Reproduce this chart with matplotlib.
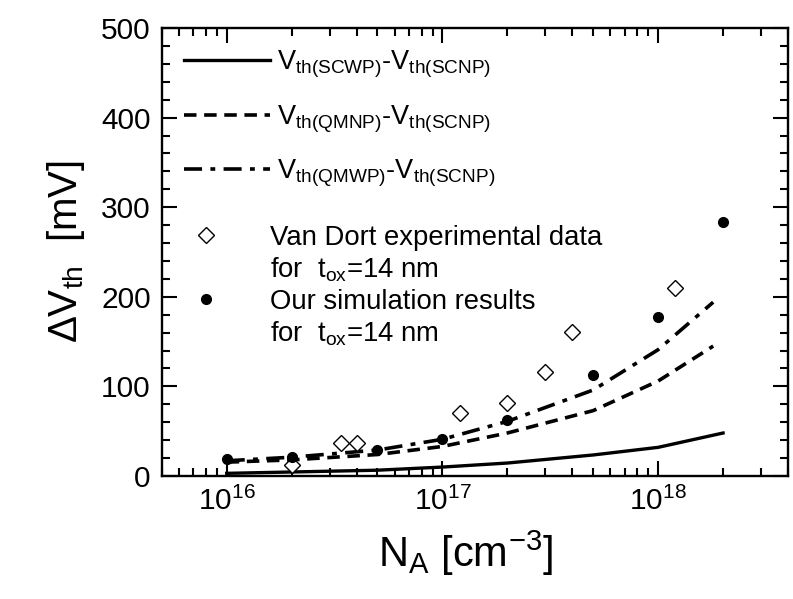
import matplotlib
matplotlib.use("Agg")
import matplotlib.pyplot as plt
from matplotlib.ticker import MultipleLocator, LogLocator, NullFormatter
from matplotlib.lines import Line2D

plt.rcParams['font.family'] = ['Liberation Sans', 'DejaVu Sans']
plt.rcParams['mathtext.fontset'] = 'custom'
plt.rcParams['mathtext.rm'] = 'Liberation Sans'
plt.rcParams['mathtext.it'] = 'Liberation Sans:italic'
plt.rcParams['mathtext.default'] = 'regular'
plt.rcParams['lines.scale_dashes'] = False

# ---- data ----
x_scwp = [1e16, 2e16, 5e16, 1e17, 2e17, 5e17, 1e18, 2e18]
y_scwp = [3, 4.5, 6.5, 10, 14.5, 23.5, 32, 48]
x_qm = [1e16, 2e16, 5e16, 1e17, 2e17, 5e17, 1e18, 1.8e18]
y_qmnp = [15.5, 18, 24, 33, 48, 73, 106, 145]
y_qmwp = [17, 21, 29, 41, 61, 96, 141, 194]

x_vandort = [2e16, 3.4e16, 4e16, 1.2e17, 2e17, 3e17, 4e17, 1.2e18]
y_vandort = [12, 37, 37, 70, 82, 116, 161, 210]

x_sim = [1e16, 2e16, 5e16, 1e17, 2e17, 5e17, 1e18, 2e18]
y_sim = [19, 21, 29, 41, 63, 113, 177, 283]

lbl_scwp = r'$V_{th(SCWP)}$-$V_{th(SCNP)}$'
lbl_qmnp = r'$V_{th(QMNP)}$-$V_{th(SCNP)}$'
lbl_qmwp = r'$V_{th(QMWP)}$-$V_{th(SCNP)}$'
lbl_vd = 'Van Dort experimental data'
lbl_sim = 'Our simulation results'
lbl_tox = r'for  $t_{ox}$=14 nm'

fig = plt.figure(figsize=(7.93, 5.99), dpi=100)
ax = fig.add_axes([0.204, 0.2053, 0.7897, 0.748])

l1, = ax.plot(x_scwp, y_scwp, color='black', lw=2.4, ls='-')
l2, = ax.plot(x_qm, y_qmnp, color='black', lw=2.6, ls=(0, (9, 5.5)))
l3, = ax.plot(x_qm, y_qmwp, color='black', lw=2.6, ls=(0, (13, 6, 3.5, 6)))
m1, = ax.plot(x_vandort, y_vandort, ls='none', marker='D', ms=8,
              mfc='white', mec='black', mew=1.0)
m2, = ax.plot(x_sim, y_sim, ls='none', marker='o', ms=7,
              mfc='black', mec='black')

ax.set_xscale('log')
ax.set_xlim(5e15, 4e18)
ax.set_ylim(0, 500)
ax.yaxis.set_major_locator(MultipleLocator(100))
ax.yaxis.set_minor_locator(MultipleLocator(20))
ax.xaxis.set_major_locator(LogLocator(base=10))
ax.xaxis.set_minor_locator(LogLocator(base=10, subs=range(2, 10)))
ax.xaxis.set_minor_formatter(NullFormatter())

for s in ax.spines.values():
    s.set_linewidth(1.7)
ax.tick_params(which='both', direction='in', top=True, right=True,
               width=1.5, labelsize=21.5, pad=8)
ax.tick_params(which='major', length=11)
ax.tick_params(which='minor', length=5.8)

ax.set_ylabel(r'$\Delta V_{th}$  [mV]', fontsize=29, labelpad=10)
ax.set_xlabel(r'$N_A$ [cm$^{-3}$]', fontsize=30)
ax.xaxis.set_label_coords(0.485, -0.118)
ax.xaxis.get_label().set_va('top')

leg1 = ax.legend([l1, l2, l3], [lbl_scwp, lbl_qmnp, lbl_qmwp],
                 loc='upper left', bbox_to_anchor=(0.035, 0.953),
                 frameon=False, fontsize=19.5, handlelength=3.2,
                 handletextpad=0.25, labelspacing=0.85,
                 borderaxespad=0, borderpad=0)
ax.add_artist(leg1)
blank = Line2D([], [], ls='none', marker=None)
leg2 = ax.legend([m1, blank, m2, blank],
                 [lbl_vd, lbl_tox, lbl_sim, lbl_tox],
                 loc='upper left', bbox_to_anchor=(0.035, 0.56),
                 frameon=False, fontsize=19.8, handlelength=1.6,
                 handletextpad=1.55, labelspacing=0.17,
                 borderaxespad=0, borderpad=0)

fig.savefig('out.png', dpi=100)
